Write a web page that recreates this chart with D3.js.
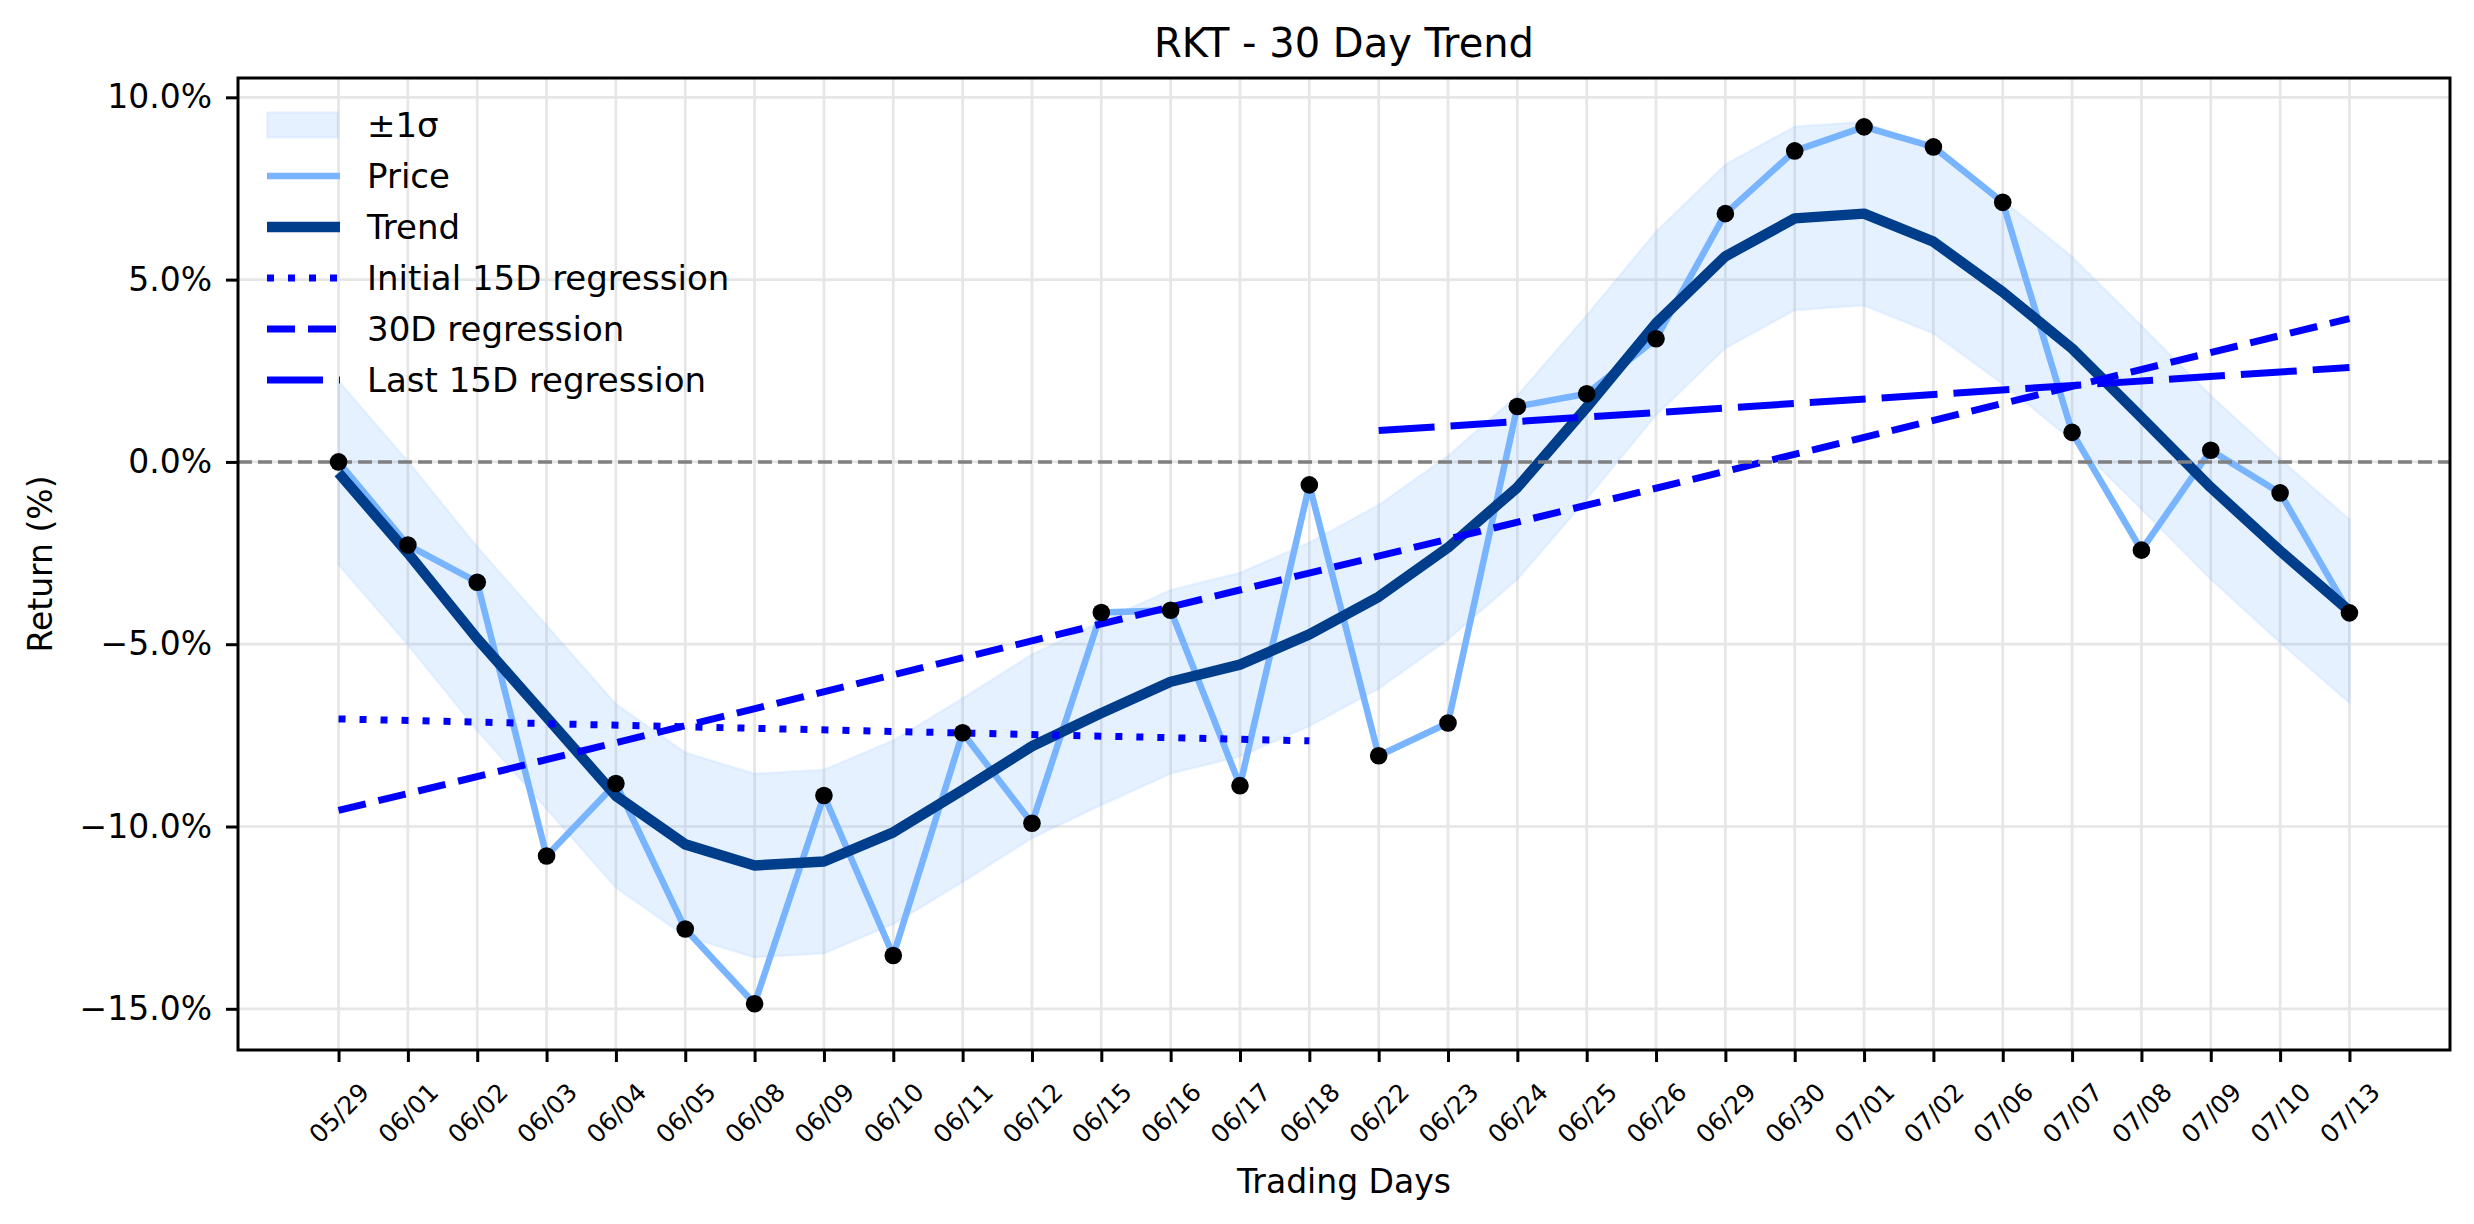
<!DOCTYPE html>
<html>
<head>
<meta charset="utf-8">
<script src="https://cdn.jsdelivr.net/npm/d3@7"></script>
<style>
  body { margin: 0; background: #fff; }
  text { font-family: "DejaVu Sans", sans-serif; }
</style>
</head>
<body>
<div id="chart"></div>
<script>
// Trading days (x categories)
const dates = ['05/29', '06/01', '06/02', '06/03', '06/04', '06/05', '06/08', '06/09', '06/10', '06/11',
    '06/12', '06/15', '06/16', '06/17', '06/18', '06/22', '06/23', '06/24', '06/25', '06/26',
    '06/29', '06/30', '07/01', '07/02', '07/06', '07/07', '07/08', '07/09', '07/10', '07/13'];

// Return (%) series
const price = [0.0, -2.28, -3.30, -10.81, -8.82, -12.81, -14.86, -9.15, -13.54, -7.43,
    -9.91, -4.13, -4.07, -8.88, -0.63, -8.06, -7.16, 1.52, 1.87, 3.38,
    6.81, 8.53, 9.19, 8.64, 7.12, 0.81, -2.42, 0.32, -0.85, -4.14];

const trend = [-0.30, -2.50, -4.85, -7.00, -9.16, -10.49, -11.07, -10.96, -10.16, -9.00,
    -7.80, -6.89, -6.03, -5.56, -4.73, -3.70, -2.35, -0.70, 1.50, 3.80,
    5.64, 6.68, 6.81, 6.04, 4.66, 3.11, 1.22, -0.70, -2.44, -4.09];

// +/- 1 sigma band edges
const bandHigh = [2.22, 0.02, -2.33, -4.48, -6.64, -7.97, -8.55, -8.44, -7.64, -6.48,
    -5.28, -4.37, -3.51, -3.04, -2.21, -1.18, 0.17, 1.82, 4.02, 6.32,
    8.16, 9.20, 9.33, 8.56, 7.18, 5.63, 3.74, 1.82, 0.08, -1.57];
const bandLow = [-2.82, -5.02, -7.37, -9.52, -11.68, -13.01, -13.59, -13.48, -12.68, -11.52,
    -10.32, -9.41, -8.55, -8.08, -7.25, -6.22, -4.87, -3.22, -1.02, 1.28,
    3.12, 4.16, 4.29, 3.52, 2.14, 0.59, -1.30, -3.22, -4.96, -6.61];

// regression lines: start / end day index and value
const regInitialIdx = [0, 14];
const regInitialVal = [-7.05, -7.65];
const reg30Idx = [0, 29];
const reg30Val = [-9.56, 3.93];
const regLastIdx = [15, 29];
const regLastVal = [0.86, 2.59];

const yTicks = [-15, -10, -5, 0, 5, 10];
const legendLabels = ['±1σ', 'Price', 'Trend', 'Initial 15D regression', '30D regression', 'Last 15D regression'];

// layout
const width = 2474;
const height = 1224;
const plot = { left: 238, right: 2450, top: 78, bottom: 1050 };

const svg = d3.select('#chart')
    .append('svg')
    .attr('width', width)
    .attr('height', height)
    .style('background', '#fff');

const x = d3.scaleLinear()
    .domain([-1.45, dates.length - 1 + 1.45])
    .range([plot.left, plot.right]);

const y = d3.scaleLinear()
    .domain([-16.13, 10.53])
    .range([plot.bottom, plot.top]);

const idx = d3.range(dates.length);

// grid
const grid = svg.append('g').attr('class', 'grid');
grid.selectAll('.vgrid')
    .data(idx)
    .enter().append('line')
    .attr('x1', d => x(d)).attr('x2', d => x(d))
    .attr('y1', plot.top).attr('y2', plot.bottom)
    .attr('stroke', '#e6e6e6')
    .attr('stroke-width', 2.7);
grid.selectAll('.hgrid')
    .data(yTicks)
    .enter().append('line')
    .attr('x1', plot.left).attr('x2', plot.right)
    .attr('y1', d => y(d)).attr('y2', d => y(d))
    .attr('stroke', '#e6e6e6')
    .attr('stroke-width', 2.7);

const g = svg.append('g');

// sigma band
const area = d3.area()
    .x(d => x(d))
    .y0(d => y(bandLow[d]))
    .y1(d => y(bandHigh[d]));

g.append('path')
    .datum(idx)
    .attr('d', area)
    .attr('fill', '#78b4ff')
    .attr('fill-opacity', 0.19)
    .attr('stroke', '#78b4ff')
    .attr('stroke-opacity', 0.12)
    .attr('stroke-width', 2.5);

const line = d3.line()
    .x(d => x(d.i))
    .y(d => y(d.v));

// price line
g.append('path')
    .datum(idx.map(i => ({ i, v: price[i] })))
    .attr('d', line)
    .attr('fill', 'none')
    .attr('stroke', '#78b4ff')
    .attr('stroke-width', 6.5)
    .attr('stroke-linejoin', 'round');

// trend line
g.append('path')
    .datum(idx.map(i => ({ i, v: trend[i] })))
    .attr('d', line)
    .attr('fill', 'none')
    .attr('stroke', '#003d8a')
    .attr('stroke-width', 10.5)
    .attr('stroke-linejoin', 'round');

// regression lines
const regStyles = [
    { idx: regInitialIdx, val: regInitialVal, dash: '7,14' },
    { idx: reg30Idx, val: reg30Val, dash: '28,13' },
    { idx: regLastIdx, val: regLastVal, dash: '56,16' }
];

regStyles.forEach(r => {
    g.append('path')
        .datum(r.idx.map((i, k) => ({ i, v: r.val[k] })))
        .attr('d', line)
        .attr('fill', 'none')
        .attr('stroke', '#0000ff')
        .attr('stroke-width', 7)
        .attr('stroke-dasharray', r.dash);
});

// zero line
g.append('line')
    .attr('x1', plot.left).attr('x2', plot.right)
    .attr('y1', y(0)).attr('y2', y(0))
    .attr('stroke', '#808080')
    .attr('stroke-width', 3.5)
    .attr('stroke-dasharray', '14,6');

// price points
g.selectAll('.pt')
    .data(idx)
    .enter().append('circle')
    .attr('cx', d => x(d))
    .attr('cy', d => y(price[d]))
    .attr('r', 8.8)
    .attr('fill', '#000');

// frame
svg.append('rect')
    .attr('x', plot.left).attr('y', plot.top)
    .attr('width', plot.right - plot.left)
    .attr('height', plot.bottom - plot.top)
    .attr('fill', 'none')
    .attr('stroke', '#000')
    .attr('stroke-width', 3);

// y axis
const yAxis = d3.axisLeft(y)
    .tickValues(yTicks)
    .tickSize(12)
    .tickPadding(14)
    .tickFormat(d => (d < 0 ? '\u2212' : '') + Math.abs(d).toFixed(1) + '%');

const yg = svg.append('g')
    .attr('transform', `translate(${plot.left},0)`)
    .call(yAxis);
yg.select('.domain').remove();
yg.selectAll('line').attr('stroke', '#000').attr('stroke-width', 3);
yg.selectAll('text')
    .attr('font-size', 33)
    .attr('fill', '#000')
    .attr('font-family', '"DejaVu Sans", sans-serif');

// x axis
const xAxis = d3.axisBottom(x)
    .tickValues(idx)
    .tickSize(12)
    .tickFormat(d => dates[d]);

const xg = svg.append('g')
    .attr('transform', `translate(0,${plot.bottom})`)
    .call(xAxis);
xg.select('.domain').remove();
xg.selectAll('line').attr('stroke', '#000').attr('stroke-width', 3);
xg.selectAll('text')
    .attr('font-size', 25)
    .attr('fill', '#000')
    .attr('font-family', '"DejaVu Sans", sans-serif')
    .attr('y', 63)
    .attr('dy', '0.35em')
    .attr('text-anchor', 'middle')
    .attr('transform', 'rotate(-45, 0, 63)');

// titles
svg.append('text')
    .attr('x', (plot.left + plot.right) / 2)
    .attr('y', 57)
    .attr('text-anchor', 'middle')
    .attr('font-size', 40)
    .text('RKT - 30 Day Trend');

svg.append('text')
    .attr('x', (plot.left + plot.right) / 2)
    .attr('y', 1193)
    .attr('text-anchor', 'middle')
    .attr('font-size', 33)
    .text('Trading Days');

svg.append('text')
    .attr('transform', `translate(52,${(plot.top + plot.bottom) / 2}) rotate(-90)`)
    .attr('text-anchor', 'middle')
    .attr('font-size', 33)
    .text('Return (%)');

// legend
const legend = svg.append('g').attr('class', 'legend');
const rowY = i => 125 + i * 51;

legend.append('rect')
    .attr('x', 267).attr('y', rowY(0) - 12.5)
    .attr('width', 71).attr('height', 25)
    .attr('fill', '#78b4ff')
    .attr('fill-opacity', 0.19)
    .attr('stroke', '#78b4ff')
    .attr('stroke-opacity', 0.12)
    .attr('stroke-width', 2.5);

const handles = [
    null,
    { color: '#78b4ff', w: 6.5, dash: null },
    { color: '#003d8a', w: 10.5, dash: null },
    { color: '#0000ff', w: 7, dash: '7,14' },
    { color: '#0000ff', w: 7, dash: '28,13' },
    { color: '#0000ff', w: 7, dash: '56,16' }
];

handles.forEach((h, i) => {
    if (!h) return;
    legend.append('line')
        .attr('x1', 267).attr('x2', 340)
        .attr('y1', rowY(i)).attr('y2', rowY(i))
        .attr('stroke', h.color)
        .attr('stroke-width', h.w)
        .attr('stroke-dasharray', h.dash);
});

legend.selectAll('.label')
    .data(legendLabels)
    .enter().append('text')
    .attr('x', 367)
    .attr('y', (d, i) => rowY(i))
    .attr('dy', '0.36em')
    .attr('font-size', 34)
    .text(d => d);
</script>
</body>
</html>
